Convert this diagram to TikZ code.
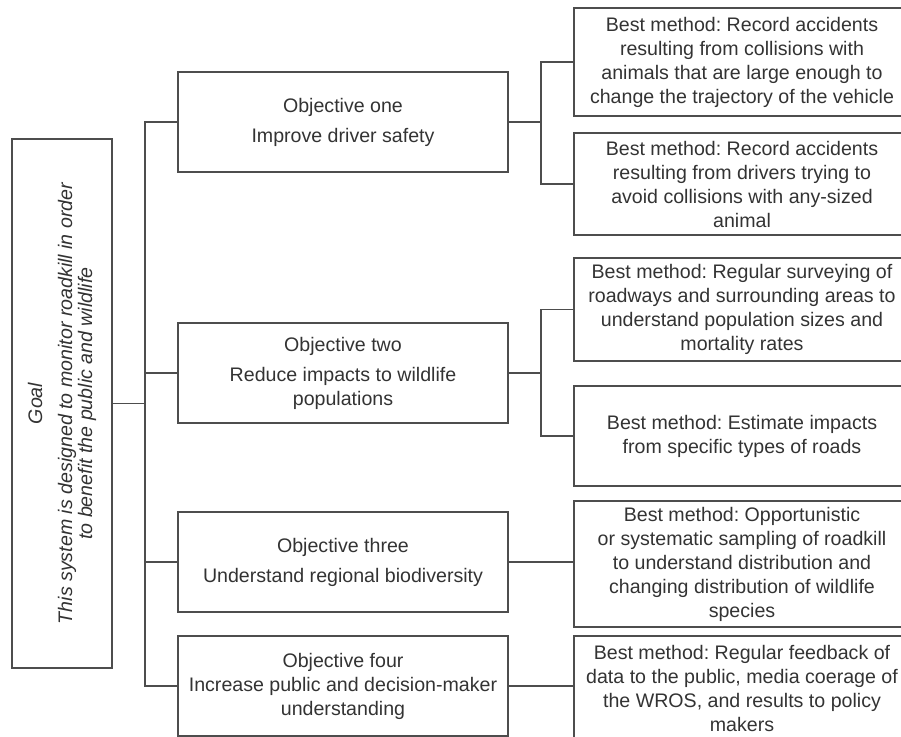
\documentclass[tikz,border=0pt]{standalone}
\usepackage{fontspec}
\setmainfont{Liberation Sans}
\frenchspacing
\definecolor{linegray}{HTML}{4D4D4D}
\definecolor{textgray}{HTML}{333333}
\begin{document}
\begin{tikzpicture}[x=0.5pt,y=-0.5pt,
  box/.style={draw=linegray,line width=0.9pt,text=textgray,align=center,inner sep=0pt,
    font=\fontsize{9.8}{12}\selectfont},
  goalbox/.style={box,rotate=90,minimum width=264.5pt,minimum height=50pt,
    font=\itshape\fontsize{9.8}{10}\selectfont},
  objbox/.style={box,minimum width=165pt,minimum height=50pt},
  methodbox/.style={box,minimum width=168pt},
  link/.style={draw=linegray,line width=0.9pt}]
  \useasboundingbox (0,0) rectangle (901,737);
  \node[goalbox] (goal) at (62,403.5) {Goal\\[5pt] This system is designed to monitor roadkill in order\\ to benefit the public and wildlife};
  \node[objbox] (obj1) at (343,122) {Objective one\\[3pt] Improve driver safety};
  \node[objbox] (obj2) at (343,373) {Objective two\\[3pt] Reduce impacts to wildlife\\ populations};
  \node[objbox] (obj3) at (343,562) {Objective three\\[3pt] Understand regional biodiversity};
  \node[objbox] (obj4) at (343,686) {Objective four\\ Increase public and decision-maker\\ understanding};
  \node[methodbox,minimum height=54pt] (m1) at (742,62) {Best method: Record accidents\\ resulting from collisions with\\ animals that are large enough to\\ change the trajectory of the vehicle};
  \node[methodbox,minimum height=51pt] (m2) at (742,184) {Best method: Record accidents\\ resulting from drivers trying to\\ avoid collisions with any-sized\\ animal};
  \node[methodbox,minimum height=51.5pt] (m3) at (742,309.5) {Best method: Regular surveying of\\ roadways and surrounding areas to\\ understand population sizes and\\ mortality rates};
  \node[methodbox,minimum height=50pt] (m4) at (742,436) {Best method: Estimate impacts\\ from specific types of roads};
  \node[methodbox,minimum height=63pt] (m5) at (742,564) {Best method: Opportunistic\\ or systematic sampling of roadkill\\ to understand distribution and\\ changing distribution of wildlife\\ species};
  \node[methodbox,minimum height=52pt] (m6) at (742,688) {Best method: Regular feedback of\\ data to the public, media coerage of\\ the WROS, and results to policy\\ makers};
  \coordinate (trunk) at (145,0);
  \coordinate (branch) at (541,0);
  \draw[link] (obj1.west) -- (obj1.west -| trunk) -- (obj4.west -| trunk) -- (obj4.west);
  \draw[link] (goal.south) -- (goal.south -| trunk);
  \draw[link] (obj2.west) -- (obj2.west -| trunk);
  \draw[link] (obj3.west) -- (obj3.west -| trunk);
  \draw[link] (obj1.east) -- (obj1.east -| branch);
  \draw[link] (m1.west) -- (m1.west -| branch) -- (m2.west -| branch) -- (m2.west);
  \draw[link] (obj2.east) -- (obj2.east -| branch);
  \draw[link] (m3.west) -- (m3.west -| branch) -- (m4.west -| branch) -- (m4.west);
  \draw[link] (obj3.east) -- (obj3.east -| m5.west);
  \draw[link] (obj4.east) -- (obj4.east -| m6.west);
\end{tikzpicture}
\end{document}
